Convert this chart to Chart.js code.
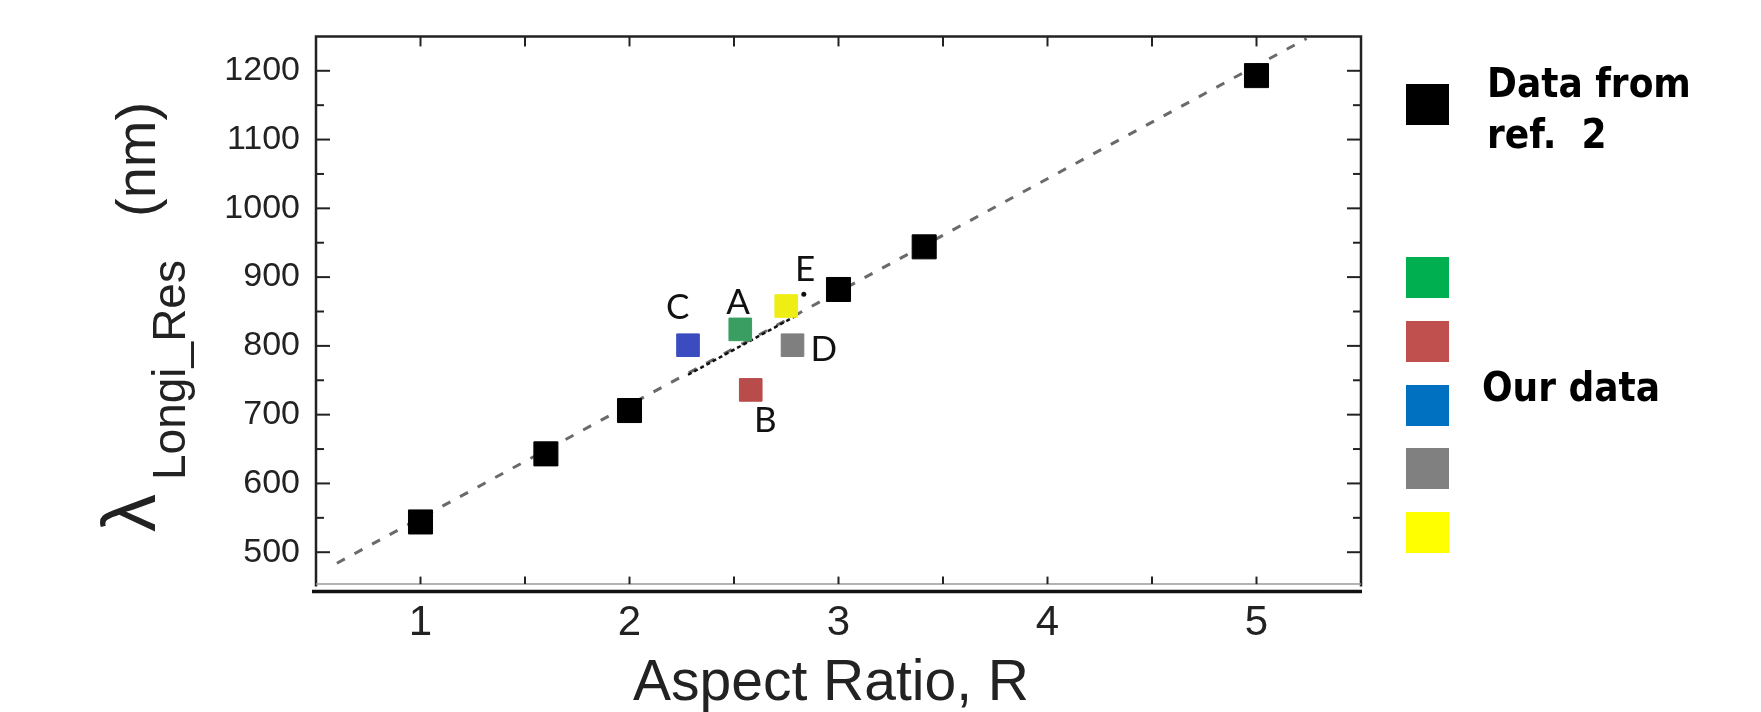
<!DOCTYPE html>
<html>
<head>
<meta charset="utf-8">
<script src="https://cdn.jsdelivr.net/npm/chart.js@4.4.1/dist/chart.umd.min.js"></script>
<style>
  html, body { margin: 0; padding: 0; background: #fff; }
  #wrap { width: 1761px; height: 712px; }
</style>
</head>
<body>
<div id="wrap"><canvas id="chart"></canvas></div>
<script>
// values
const refX = [1, 1.6, 2, 3, 3.41, 5];
const refY = [544, 643, 706, 882, 944, 1193];

const ourNames = ['A', 'B', 'C', 'D', 'E'];
const ourX = [2.53, 2.58, 2.28, 2.78, 2.75];
const ourY = [824, 736, 801, 801, 858];
const ourColors = ['#3a9e63', '#b84c4a', '#3b4cc0', '#7f7f7f', '#eeee14'];

// where the letters sit, in data units
const nameX = [2.52, 2.65, 2.23, 2.93, 2.84];
const nameY = [863, 691, 856, 794, 911];

// dashed fit through the reference data
const fitX = [0.6, 5.24];
const fitY = [484, 1247];

// dotted trend through our data
const trendX = [2.28, 2.81];
const trendY = [758, 846];
const dotX = [2.834];
const dotY = [875];

const xTicks = [1, 2, 3, 4, 5];
const xMinor = [1.5, 2.5, 3.5, 4.5];
const yTicks = [500, 600, 700, 800, 900, 1000, 1100, 1200];
const yMinor = [550, 650, 750, 850, 950, 1050, 1150];

const legendColors = ['#000000', '#00b050', '#c0504d', '#0070c0', '#808080', '#ffff00'];

const pts = (xs, ys) => xs.map((v, i) => ({ x: v, y: ys[i] }));

const decor = {
    id: 'decor',
    afterDatasetsDraw(chart) {
        const { ctx, scales: { x, y } } = chart;
        ctx.save();
        ctx.font = '35px Lato, "Open Sans", sans-serif';
        ctx.fillStyle = '#111';
        ctx.textAlign = 'center';
        ctx.textBaseline = 'middle';
        ourNames.forEach((n, i) => {
            ctx.fillText(n, x.getPixelForValue(nameX[i]), y.getPixelForValue(nameY[i]));
        });
        ctx.restore();
    },
    afterDraw(chart) {
        const { ctx, chartArea: a, scales: { x, y } } = chart;
        ctx.save();
        // box
        ctx.strokeStyle = '#222';
        ctx.lineWidth = 2.5;
        ctx.beginPath();
        ctx.moveTo(a.left, a.bottom);
        ctx.lineTo(a.left, a.top);
        ctx.lineTo(a.right, a.top);
        ctx.lineTo(a.right, a.bottom);
        ctx.stroke();
        ctx.strokeStyle = '#9a9a9a';
        ctx.lineWidth = 1.5;
        ctx.beginPath();
        ctx.moveTo(a.left, a.bottom - 2.5);
        ctx.lineTo(a.right, a.bottom - 2.5);
        ctx.stroke();
        ctx.strokeStyle = '#111';
        ctx.lineWidth = 3.5;
        ctx.beginPath();
        ctx.moveTo(a.left - 4, a.bottom + 5);
        ctx.lineTo(a.right + 1, a.bottom + 5);
        ctx.stroke();

        // inward ticks
        ctx.strokeStyle = '#222';
        ctx.lineWidth = 2;
        const tick = (x1, y1, x2, y2) => {
            ctx.beginPath(); ctx.moveTo(x1, y1); ctx.lineTo(x2, y2); ctx.stroke();
        };
        yTicks.forEach(v => {
            const p = y.getPixelForValue(v);
            tick(a.left, p, a.left + 14, p);
            tick(a.right - 14, p, a.right, p);
        });
        yMinor.forEach(v => {
            const p = y.getPixelForValue(v);
            tick(a.left, p, a.left + 8, p);
            tick(a.right - 8, p, a.right, p);
        });
        xTicks.concat(xMinor).forEach(v => {
            const p = x.getPixelForValue(v);
            tick(p, a.top, p, a.top + 10);
            tick(p, a.bottom - 2.5, p, a.bottom - 10);
        });

        // axis titles
        ctx.fillStyle = '#222';
        ctx.textBaseline = 'alphabetic';
        ctx.textAlign = 'center';
        ctx.font = '57px "Liberation Sans", Arial, sans-serif';
        ctx.fillText('Aspect Ratio, R', 831, 700);

        ctx.save();
        ctx.translate(155, 532);
        ctx.rotate(-Math.PI / 2);
        ctx.textAlign = 'left';
        ctx.font = '76px "Liberation Sans", Arial, sans-serif';
        ctx.fillText('\u03bb', 0, 0);
        ctx.font = '46px "Liberation Sans", Arial, sans-serif';
        ctx.fillText('Longi_Res', 52, 30);
        ctx.font = '56px "Liberation Sans", Arial, sans-serif';
        ctx.fillText('(nm)', 315, 0);
        ctx.restore();

        // legend
        const boxTops = [84, 257, 321, 385, 448, 512];
        legendColors.forEach((c, i) => {
            ctx.fillStyle = c;
            ctx.fillRect(1406, boxTops[i], 43, 41);
        });
        ctx.fillStyle = '#000';
        ctx.textAlign = 'left';
        ctx.font = 'bold 40px "DejaVu Sans", sans-serif';
        const narrow = (t, x0, yb) => {
            ctx.save(); ctx.translate(x0, yb); ctx.scale(0.9, 1); ctx.fillText(t, 0, 0); ctx.restore();
        };
        narrow('Data from', 1487, 97);
        narrow('ref.  2', 1487, 148);
        narrow('Our data', 1482, 401);
        ctx.restore();
    }
};

new Chart(document.getElementById('chart'), {
    type: 'scatter',
    data: {
        datasets: [
            {
                label: 'Our data',
                data: pts(ourX, ourY),
                pointStyle: 'rect',
                pointRadius: 16,
                pointBackgroundColor: ourColors,
                pointBorderColor: ourColors,
                pointBorderWidth: 1,
                order: 1
            },
            {
                label: 'dot',
                data: pts(dotX, dotY),
                pointRadius: 2.5,
                pointBackgroundColor: '#111',
                pointBorderWidth: 0,
                order: 1
            },
            {
                label: 'Data from ref. 2',
                data: pts(refX, refY),
                pointStyle: 'rect',
                pointRadius: 17,
                pointBackgroundColor: '#000',
                pointBorderColor: '#000',
                pointBorderWidth: 1,
                order: 2
            },
            {
                label: 'trend',
                data: pts(trendX, trendY),
                showLine: true,
                borderColor: '#111',
                borderWidth: 2.5,
                borderDash: [4, 3],
                pointRadius: 0,
                order: 3
            },
            {
                label: 'fit',
                data: pts(fitX, fitY),
                showLine: true,
                borderColor: '#6a6a6a',
                borderWidth: 3,
                borderDash: [9, 11],
                pointRadius: 0,
                order: 4
            }
        ]
    },
    options: {
        responsive: true,
        maintainAspectRatio: false,
        animation: false,
        layout: { padding: { left: 0, top: 28.4, right: 400, bottom: 0 } },
        plugins: { legend: { display: false }, tooltip: { enabled: false } },
        scales: {
            x: {
                type: 'linear',
                min: 0.5,
                max: 5.5,
                afterBuildTicks: s => { s.ticks = xTicks.map(v => ({ value: v })); },
                afterFit: s => { s.height = 712 - 586.6; },
                grid: { display: false, drawTicks: false },
                border: { display: false },
                ticks: {
                    font: { family: '"Liberation Sans", Arial, sans-serif', size: 42 },
                    color: '#222',
                    padding: 12,
                    maxRotation: 0,
                    autoSkip: false,
                    callback: v => String(v)
                }
            },
            y: {
                type: 'linear',
                min: 450,
                max: 1250,
                afterBuildTicks: s => { s.ticks = yTicks.map(v => ({ value: v })); },
                afterFit: s => { s.width = 316; },
                grid: { display: false, drawTicks: false },
                border: { display: false },
                ticks: {
                    font: { family: '"Liberation Sans", Arial, sans-serif', size: 34 },
                    color: '#222',
                    padding: 16,
                    autoSkip: false,
                    callback: v => String(v)
                }
            }
        }
    },
    plugins: [decor]
});
</script>
</body>
</html>
